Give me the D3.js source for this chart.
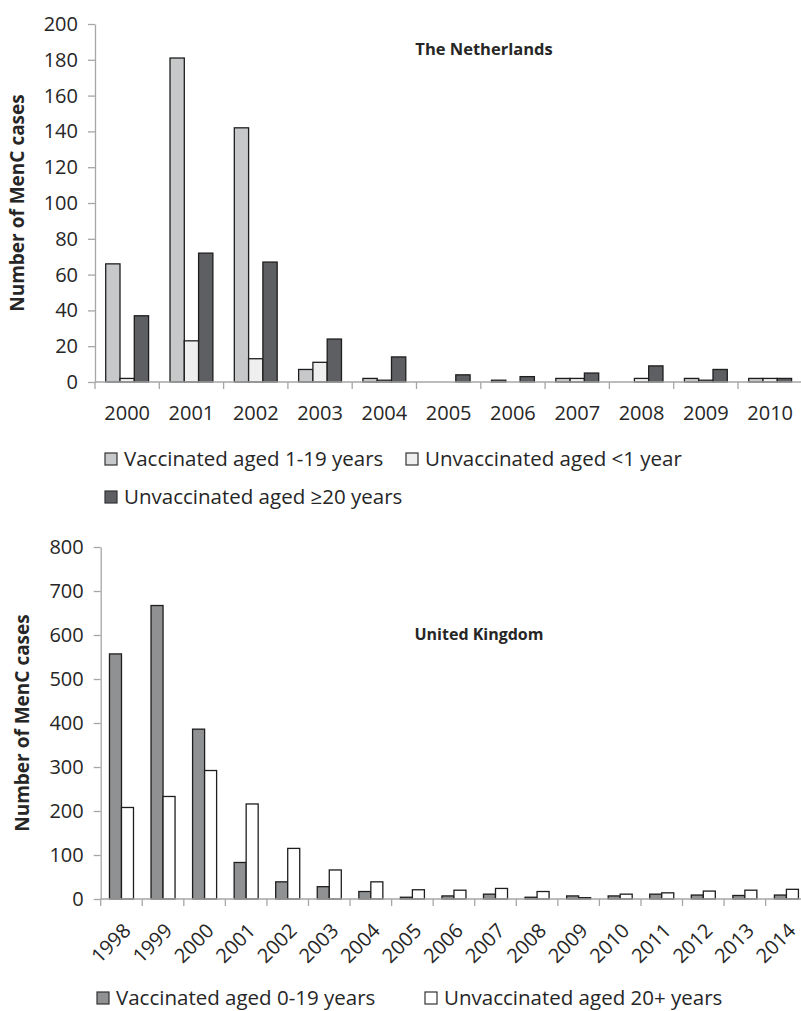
<!DOCTYPE html>
<html>
<head>
<meta charset="utf-8">
<script src="https://cdn.jsdelivr.net/npm/d3@7"></script>
<style>
  html, body { margin: 0; padding: 0; background: #fff; }
  svg { display: block; font-family: "Open Sans", "DejaVu Sans", sans-serif; }
</style>
</head>
<body>
<svg id="chart" width="801" height="1011"></svg>
<script>
// ---------- Data: The Netherlands ----------
const nlYears = ["2000","2001","2002","2003","2004","2005","2006","2007","2008","2009","2010"];
const nlSeries = ["Vaccinated aged 1-19 years", "Unvaccinated aged <1 year", "Unvaccinated aged \u226520 years"];
const nlVacc1to19   = [66, 181, 142, 7, 2, 0, 1, 2, 0, 2, 2];
const nlUnvaccLt1   = [2, 23, 13, 11, 1, 0, 0, 2, 2, 1, 2];
const nlUnvacc20    = [37, 72, 67, 24, 14, 4, 3, 5, 9, 7, 2];
const nlTicks = [0, 20, 40, 60, 80, 100, 120, 140, 160, 180, 200];

// ---------- Data: United Kingdom ----------
const ukYears = ["1998","1999","2000","2001","2002","2003","2004","2005","2006","2007","2008","2009","2010","2011","2012","2013","2014"];
const ukSeries = ["Vaccinated aged 0-19 years", "Unvaccinated aged 20+ years"];
const ukVacc0to19 = [557, 667, 386, 83, 39, 28, 17, 4, 7, 11, 4, 7, 7, 11, 9, 8, 9];
const ukUnvacc20  = [208, 233, 292, 216, 115, 66, 39, 21, 20, 24, 17, 3, 11, 14, 18, 20, 22];
const ukTicks = [0, 100, 200, 300, 400, 500, 600, 700, 800];

const textColor = "#262626";
const axisColor = "#a6a6a6";
const barStroke = "#1e1e1e";

const svg = d3.select("#chart");

function drawChart(cfg) {
  const g = svg.append("g");
  const x = d3.scaleBand().domain(cfg.cats).range([cfg.left, cfg.right]).paddingInner(0).paddingOuter(0);
  const y = d3.scaleLinear().domain([0, cfg.ymax]).range([cfg.bottom, cfg.top]);
  const bw = x.bandwidth();
  const xs = d3.scaleBand().domain(d3.range(cfg.series.length))
    .range([bw * cfg.groupPad, bw * (1 - cfg.groupPad)]).padding(0);

  // bars
  cfg.series.forEach((s, si) => {
    g.append("g").selectAll("rect")
      .data(cfg.cats.map((c, i) => ({ c, v: cfg.values[si][i] })))
      .join("rect")
      .attr("x", d => x(d.c) + xs(si))
      .attr("y", d => y(d.v))
      .attr("width", xs.bandwidth())
      .attr("height", d => y(0) - y(d.v))
      .attr("fill", cfg.colors[si])
      .attr("stroke", barStroke)
      .attr("stroke-width", 1.3);
  });

  // y axis
  const ya = g.append("g")
    .attr("transform", `translate(${cfg.left},0)`)
    .call(d3.axisLeft(y).tickValues(cfg.ticks).tickSize(7).tickSizeOuter(0).tickPadding(10).tickFormat(d3.format("d")));
  ya.select(".domain").attr("stroke", axisColor).attr("stroke-width", 1.3);
  ya.selectAll(".tick line").attr("stroke", axisColor).attr("stroke-width", 1.3);
  ya.selectAll(".tick text").attr("fill", textColor).style("font-size", "20px").style("font-family", "Open Sans");

  // x axis line
  g.append("line")
    .attr("x1", cfg.left).attr("x2", cfg.right)
    .attr("y1", y(0)).attr("y2", y(0))
    .attr("stroke", axisColor).attr("stroke-width", 1.3);
  // boundary ticks
  const edges = cfg.cats.map(c => x(c)).concat([cfg.right]);
  g.append("g").selectAll("line").data(edges).join("line")
    .attr("x1", d => d).attr("x2", d => d)
    .attr("y1", y(0)).attr("y2", y(0) + 7)
    .attr("stroke", axisColor).attr("stroke-width", 1.3);

  // x labels
  const lab = g.append("g").selectAll("text").data(cfg.cats).join("text")
    .text(d => d)
    .attr("fill", textColor)
    .style("font-size", "20px");
  if (cfg.rotate) {
    lab.attr("text-anchor", "end")
      .attr("transform", d => `translate(${x(d) + bw / 2 + cfg.labDx},${y(0) + cfg.labDy}) rotate(-45)`);
  } else {
    lab.attr("text-anchor", "middle")
      .attr("x", d => x(d) + bw / 2)
      .attr("y", y(0) + cfg.labDy);
  }

  // y title
  g.append("text")
    .attr("transform", `translate(${cfg.titleX},${(cfg.top + cfg.bottom) / 2}) rotate(-90)`)
    .attr("text-anchor", "middle")
    .attr("fill", textColor)
    .style("font-size", "19px").style("font-weight", "bold")
    .text("Number of MenC cases");

  // chart title
  g.append("text")
    .attr("x", cfg.nameX).attr("y", cfg.nameY)
    .attr("text-anchor", "middle")
    .attr("fill", textColor)
    .style("font-size", cfg.nameSize).style("font-weight", "bold")
    .text(cfg.name);

  // legend
  cfg.legend.forEach((L, i) => {
    g.append("rect")
      .attr("x", L.x).attr("y", L.y - 6).attr("width", 12).attr("height", 12)
      .attr("fill", cfg.colors[i]).attr("stroke", "#333").attr("stroke-width", 1.2);
    g.append("text")
      .attr("x", L.x + 19).attr("y", L.y).attr("dy", "0.36em")
      .attr("fill", textColor)
      .style("font-size", "20.5px")
      .text(cfg.series[i]);
  });
}

drawChart({
  cats: nlYears, series: nlSeries,
  values: [nlVacc1to19, nlUnvaccLt1, nlUnvacc20],
  colors: ["#c7c8ca", "#efefef", "#5e5f63"],
  ticks: nlTicks, ymax: 200,
  left: 95, right: 802.3, top: 24, bottom: 382,
  groupPad: 1 / 6, rotate: false, labDy: 38,
  titleX: 24, name: "The Netherlands", nameX: 484, nameY: 55, nameSize: "16.5px",
  legend: [{ x: 105, y: 459 }, { x: 406, y: 459 }, { x: 105, y: 497 }]
});

drawChart({
  cats: ukYears, series: ukSeries,
  values: [ukVacc0to19, ukUnvacc20],
  colors: ["#909193", "#ffffff"],
  ticks: ukTicks, ymax: 800,
  left: 100.7, right: 807.2, top: 547, bottom: 899,
  groupPad: 0.211, rotate: true, labDx: 10.5, labDy: 33,
  titleX: 29, name: "United Kingdom", nameX: 479, nameY: 640, nameSize: "16px",
  legend: [{ x: 97, y: 998 }, { x: 425, y: 998 }]
});
</script>
</body>
</html>
